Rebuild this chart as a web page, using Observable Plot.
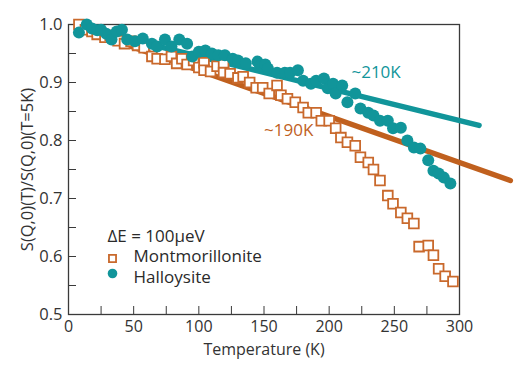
<!DOCTYPE html>
<html><head><meta charset="utf-8">
<script src="https://cdn.jsdelivr.net/npm/d3@7"></script>
<script src="https://cdn.jsdelivr.net/npm/@observablehq/plot@0.6"></script>
<style>body{margin:0;background:#fff}#chart{width:531px;height:387px}</style>
</head><body><div id="chart"></div>
<script>
// Montmorillonite (open squares)
const montT = [8,13,18,22,28,32,38,43,48,53,58,64,68,74,79,83,87,91,96,100,104,104,109,114,119,119,124,130,134,139,144,149,154,160,163,168,174,180,184,190,194,200,205,209,214,220,224,230,234,239,245,249,255,260,265,269,276,280,284,289,295];
const montV = [1.0,0.991,0.988,0.983,0.978,0.981,0.972,0.967,0.971,0.964,0.960,0.945,0.941,0.940,0.945,0.933,0.941,0.931,0.938,0.926,0.934,0.921,0.919,0.928,0.931,0.917,0.915,0.908,0.910,0.900,0.891,0.891,0.881,0.895,0.878,0.872,0.866,0.857,0.848,0.848,0.834,0.834,0.821,0.805,0.797,0.791,0.771,0.762,0.750,0.731,0.705,0.691,0.676,0.666,0.657,0.617,0.619,0.602,0.579,0.566,0.557];
// Halloysite (filled circles)
const hallT = [8,14,18,22,25,29,33,37,41,45,51,57,64,68,74,79,85,91,95,100,105,110,115,120,126,130,136,145,147,151,153,160,166,170,176,180,186,190,196,199,203,205,210,214,220,224,230,234,239,245,249,255,260,265,270,276,280,284,288,293];
const hallV = [0.986,1.0,0.993,0.990,0.991,0.984,0.974,0.988,0.991,0.974,0.971,0.976,0.967,0.962,0.974,0.962,0.974,0.967,0.945,0.953,0.955,0.950,0.947,0.947,0.941,0.938,0.933,0.936,0.929,0.931,0.924,0.917,0.917,0.917,0.921,0.903,0.898,0.903,0.907,0.890,0.898,0.881,0.895,0.866,0.881,0.855,0.848,0.843,0.834,0.834,0.821,0.822,0.800,0.788,0.786,0.766,0.748,0.743,0.736,0.726];
// Linear fits
const fitNames = ["~210K", "~190K"];
const fitStartT = [8, 8];
const fitStartV = [0.996, 0.994];
const fitEndT = [315, 339];
const fitEndV = [0.826, 0.731];
const fitLabelT = [236, 169];
const fitLabelV = [0.917, 0.817];
// Axes
const xTickLabels = [0, 50, 100, 150, 200, 250, 300];
const xTickMarks = [0, 25, 50, 75, 100, 125, 150, 175, 200, 225, 250, 275, 300];
const yTickLabels = [0.5, 0.6, 0.7, 0.8, 0.9, 1.0];
const yTickMarks = [0.5, 0.55, 0.6, 0.65, 0.7, 0.75, 0.8, 0.85, 0.9, 0.95, 1.0];
const legendTitle = "\u0394E = 100\u03bceV";
const seriesNames = ["Montmorillonite", "Halloysite"];

const TEAL = "#11959a", ORANGE = "#c0601e", SQ = "#c9692c", AX = "#3a3a3a";

const mont = montT.map((t, i) => ({T: t, v: montV[i]}));
const hall = hallT.map((t, i) => ({T: t, v: hallV[i]}));
const fits = fitNames.map((n, i) => [{n, T: fitStartT[i], v: fitStartV[i]}, {n, T: fitEndT[i], v: fitEndV[i]}]);
const fitLabels = fitNames.map((n, i) => ({n, T: fitLabelT[i], v: fitLabelV[i], c: i === 0 ? TEAL : ORANGE}));

const chart = Plot.plot({
  width: 531, height: 387,
  marginLeft: 68, marginRight: 72, marginTop: 24, marginBottom: 73,
  style: {fontFamily: "Open Sans", fontSize: "16px", color: AX, background: "#fff"},
  x: {domain: [0, 300]},
  y: {domain: [0.5, 1.0]},
  marks: [
    Plot.axisX({ticks: xTickMarks, tickSize: -8, tickFormat: () => "", stroke: AX, label: null}),
    Plot.axisX({ticks: xTickLabels, tickSize: 0, tickPadding: 6, fontSize: 16, fill: "#333",
      label: "Temperature (K)", labelAnchor: "center", labelOffset: 40, labelArrow: "none"}),
    Plot.axisY({ticks: yTickMarks, tickSize: -8, tickFormat: () => "", stroke: AX, label: null}),
    Plot.axisY({ticks: yTickLabels, tickSize: 0, tickPadding: 6, fontSize: 16.5, fill: "#333",
      tickFormat: d3.format(".1f"),
      label: "S(Q,0)(T)/S(Q,0)(T=5K)", labelAnchor: "center", labelOffset: 47, labelArrow: "none"}),
    Plot.frame({stroke: AX, strokeWidth: 1.3}),
    Plot.line(fits[0], {x: "T", y: "v", stroke: TEAL, strokeWidth: 5.5, strokeLinecap: "round", clip: false}),
    Plot.line(fits[1], {x: "T", y: "v", stroke: ORANGE, strokeWidth: 5.5, strokeLinecap: "round", clip: false}),
    Plot.dot(mont, {x: "T", y: "v", symbol: "square", r: 5.5, fill: "white", stroke: SQ, strokeWidth: 1.8}),
    Plot.dot(hall, {x: "T", y: "v", r: 6, fill: TEAL, stroke: "none"}),
    Plot.text(fitLabels, {x: "T", y: "v", text: "n", fill: "c", fontSize: 17}),
    // legend
    Plot.text([legendTitle], {frameAnchor: "bottom-left", dx: 39, dy: -73, textAnchor: "start", fontSize: 17, fill: "#2a2a2a"}),
    Plot.dot([seriesNames[0]], {frameAnchor: "bottom-left", dx: 44, dy: -56, symbol: "square", r: 4, fill: "white", stroke: SQ, strokeWidth: 1.8}),
    Plot.dot([seriesNames[1]], {frameAnchor: "bottom-left", dx: 44, dy: -41, r: 4.8, fill: TEAL}),
    Plot.text([seriesNames[0]], {frameAnchor: "bottom-left", dx: 65, dy: -53, textAnchor: "start", fontSize: 17, fill: "#2a2a2a"}),
    Plot.text([seriesNames[1]], {frameAnchor: "bottom-left", dx: 65, dy: -32, textAnchor: "start", fontSize: 17, fill: "#2a2a2a"})
  ]
});
document.getElementById("chart").appendChild(chart);
</script>
</body></html>
